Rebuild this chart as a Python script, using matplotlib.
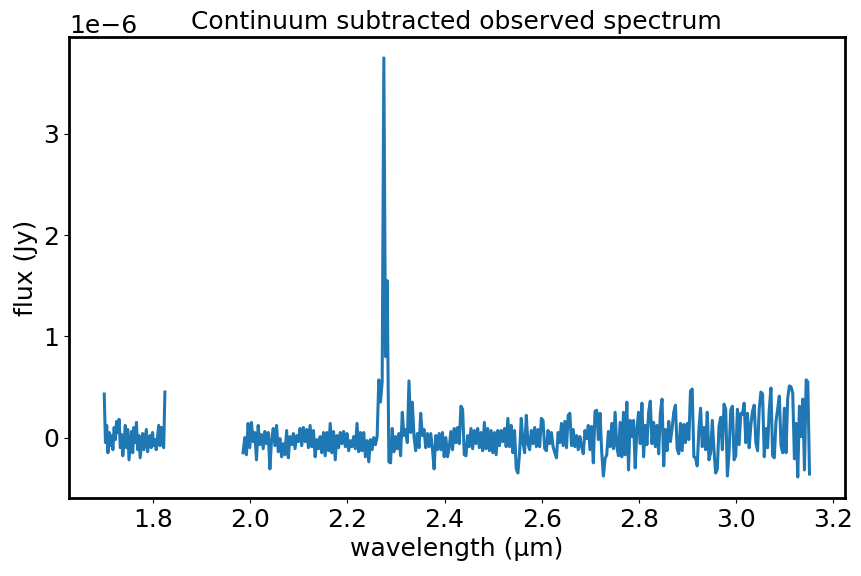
import numpy as np
import matplotlib
matplotlib.use("Agg")
import matplotlib.pyplot as plt

# Segment 1 (1.70 - 1.824 um), flux in 1e-6 Jy
seg1_range = (1.699, 1.824)
seg1_flux = [0.43, -0.05, 0.12, -0.15, 0.05, -0.08, 0.02, -0.12, 0.10, -0.02,
             0.16, 0.05, 0.18, -0.10, 0.03, -0.18, -0.05, 0.12, -0.10, 0.08,
             -0.22, -0.08, 0.06, -0.15, 0.10, -0.05, 0.15, -0.12, 0.02, -0.20,
             -0.08, 0.04, -0.12, -0.02, 0.08, -0.14, -0.05, 0.02, -0.10, 0.05,
             -0.08, -0.02, -0.12, 0.00, 0.12, -0.08, 0.10, -0.05, -0.10, 0.45]

# Segment 2 (1.985 - 3.152 um), flux in 1e-6 Jy
seg2_range = (1.985, 3.1517)
seg2_a = [-0.15, 0.00, -0.17, 0.14, -0.10, 0.15, -0.04, 0.05, -0.22, 0.12,
          -0.07, 0.03, -0.11, 0.06, -0.06, 0.05, -0.31, -0.02, 0.09, -0.08,
          0.12, -0.14, -0.01, -0.19, -0.06, -0.17, 0.07, -0.20, 0.01, -0.07,
          0.04, -0.11, 0.02, -0.04, 0.09, -0.08, 0.10, -0.04, 0.08, -0.10,
          0.12, -0.09, 0.07, -0.19, -0.02, -0.11, 0.01, -0.15, 0.05, -0.18,
          0.05, -0.13, 0.14, -0.15, 0.06, -0.22, 0.02, -0.10, 0.05, -0.06,
          0.06, -0.09, 0.04, -0.13, -0.03, -0.09, 0.01, -0.11, 0.14, -0.14,
          0.05, -0.13, 0.05, -0.19, -0.03, -0.24, -0.02, -0.12, 0.00, -0.07,
          0.01]
seg2_peak = [0.57, 0.35, 0.55, 3.75, 0.80, 1.55, -0.24]
seg2_b = [-0.25, 0.09, -0.14, 0.01, -0.11, 0.04, -0.18, 0.25, 0.02, 0.08,
          -0.05, 0.56, 0.05, 0.35, 0.01, -0.13, 0.04, -0.10, 0.24, 0.02,
          0.08, -0.10, 0.04, -0.09, 0.04, -0.11, -0.31, 0.02, -0.12, 0.04,
          -0.12, 0.05, -0.19, 0.00, -0.19, -0.10, 0.06, -0.12, 0.09, -0.05,
          0.10, -0.06, 0.31, 0.28, -0.17, -0.18, 0.02, -0.09, 0.09, -0.11,
          0.07, -0.06, 0.09, -0.10, 0.05, -0.13, 0.15, -0.11, 0.09, -0.13,
          0.07, -0.15, 0.05, -0.17, 0.07, -0.08, 0.07, -0.04, 0.09, -0.09,
          0.19, -0.09, 0.12, -0.15, 0.07, -0.31, -0.35, -0.15, 0.19, -0.05,
          -0.15, 0.22, -0.06, -0.12, 0.07, -0.06, 0.10, -0.09, 0.08, -0.09,
          0.19, 0.17, -0.11, -0.13, 0.07, -0.06, 0.05, -0.09, -0.15, -0.20,
          0.05, -0.05, 0.14, -0.08, 0.16, -0.10, 0.22, 0.24, -0.08, 0.08,
          -0.09, 0.02, -0.12, 0.01, -0.09]
seg2_c = [-0.16, 0.07, -0.01, 0.12, -0.12, 0.11, -0.25, 0.26, 0.27, -0.02,
          0.24, -0.14, -0.38, -0.21, -0.17, 0.06, -0.09, 0.14, -0.11, 0.25,
          -0.09, -0.18, 0.15, -0.19, 0.25, -0.17, 0.35, -0.32, 0.17, 0.01,
          0.17, -0.30, 0.08, 0.25, -0.06, 0.34, -0.19, 0.12, -0.07, 0.25,
          0.36, -0.06, 0.15, -0.09, 0.12, -0.16, 0.24, 0.38, -0.28, 0.08,
          -0.13, 0.16, -0.04, 0.09, 0.25, 0.32, -0.11, -0.16, 0.14, -0.13,
          0.13, -0.05, 0.14, -0.02, 0.46, 0.48, -0.19, -0.20, -0.28, 0.08,
          0.29, -0.09, 0.10, -0.12, 0.25, -0.22, -0.15, 0.17, -0.12, -0.35,
          -0.31, 0.11, 0.20, -0.12, 0.33, 0.28, -0.38, -0.15, 0.27, 0.31,
          -0.22, -0.18, 0.28, -0.07, 0.24, 0.23, 0.34, -0.05, 0.24, -0.10,
          0.12, 0.26, 0.32, -0.05, -0.13, 0.28, 0.45, 0.43, -0.19, 0.09,
          -0.10, 0.28, 0.49, -0.18, -0.20, 0.16, 0.28, 0.41, -0.08, -0.15,
          0.29, -0.15, 0.39, 0.51, 0.50, 0.44, -0.21, 0.14, -0.39, 0.31,
          0.01, 0.38, -0.32, 0.57, 0.55, -0.36]

seg2_flux = seg2_a + seg2_peak + seg2_b + seg2_c

wl1 = np.linspace(seg1_range[0], seg1_range[1], len(seg1_flux))
wl2 = np.linspace(seg2_range[0], seg2_range[1], len(seg2_flux))
wl = np.concatenate([wl1, [np.nan], wl2])
flux = np.concatenate([seg1_flux, [np.nan], seg2_flux]) * 1e-6

plt.rcParams['font.size'] = 18
fig = plt.figure(figsize=(8.62, 5.76), dpi=100)
ax = fig.add_axes([0.080, 0.1354, 0.900, 0.8004])
ax.plot(wl, flux, color='#1f77b4', linewidth=2.2)
for s in ax.spines.values():
    s.set_linewidth(2)
ax.set_xlabel('wavelength (µm)')
ax.set_ylabel('flux (Jy)')
ax.set_title('Continuum subtracted observed spectrum', fontsize=18)
fig.savefig('out.png', dpi=100)
